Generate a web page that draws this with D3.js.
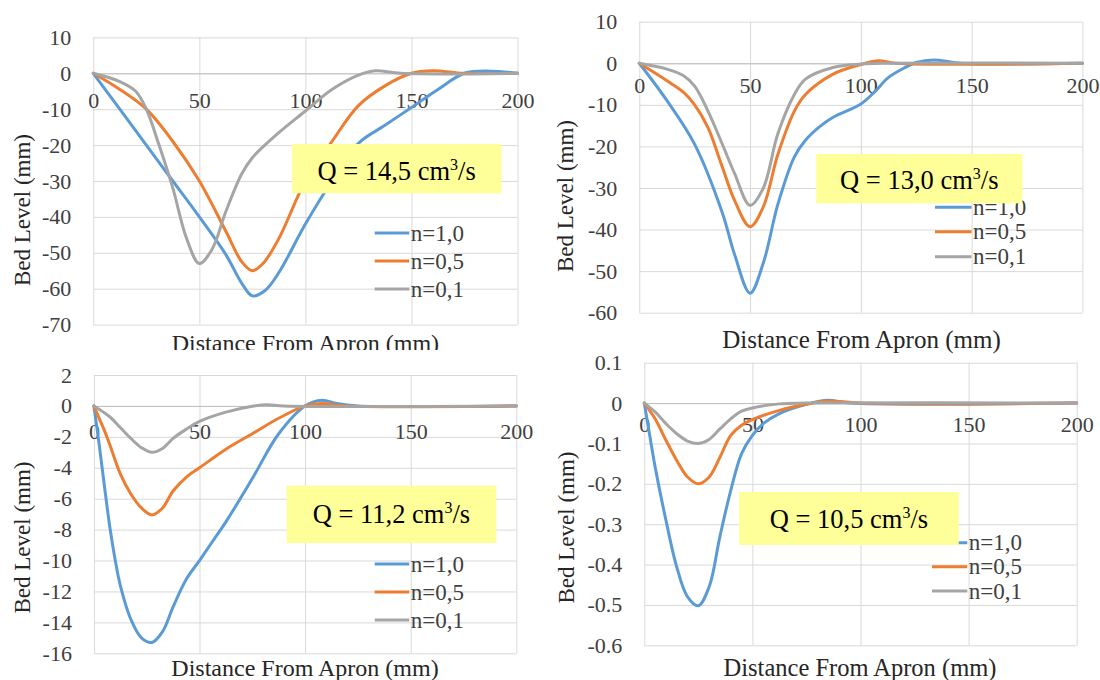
<!DOCTYPE html>
<html>
<head>
<meta charset="utf-8">
<script src="https://cdn.jsdelivr.net/npm/d3@7"></script>
<style>
  html, body { margin: 0; padding: 0; background: #fff; }
  svg { display: block; }
  svg text { font-family: "Liberation Serif", Tinos, "Times New Roman", "DejaVu Serif", serif !important; }
</style>
</head>
<body>
<svg id="chart" width="1100" height="680"></svg>
<script>
// ---- data ----
const seriesLabels = ['n=1,0', 'n=0,5', 'n=0,1'];
const xTicks = [0, 50, 100, 150, 200];

// Q = 14,5 cm3/s
const q145Ticks = [10, 0, -10, -20, -30, -40, -50, -60, -70];
const q145_n10 = [[0,0],[12.5,-10],[25,-20],[37.5,-30],[50,-40],[62.5,-50.5],[70,-58.5],[75,-62],[81,-60.5],[87.5,-55.5],[100,-42],[112.5,-30],[125,-19.5],[137.5,-14.5],[150,-9.5],[162.5,-4.5],[175,0],[187.5,0.6],[200,0]];
const q145_n05 = [[0,0],[12.5,-4.5],[25,-10],[37.5,-19],[50,-30],[62.5,-44],[70,-52.5],[75,-55],[80,-53],[87.5,-46],[100,-30],[112.5,-19],[125,-9],[137.5,-3.5],[150,0],[160,0.7],[175,0],[200,0]];
const q145_n01 = [[0,0],[12.5,-2.3],[20,-5],[25,-10],[31,-20],[37.5,-32],[44,-46],[50,-53],[56,-49],[62.5,-38.5],[70,-28],[75,-23.5],[87.5,-16.5],[100,-10.5],[112.5,-4.5],[125,-0.5],[133,0.7],[145,0],[200,0]];

// Q = 13,0 cm3/s
const q130Ticks = [10, 0, -10, -20, -30, -40, -50, -60];
const q130_n10 = [[0,0],[12.5,-9],[25,-19.5],[37.5,-36],[43,-46],[50,-55.3],[56,-48],[62.5,-34],[70,-22.5],[75,-18.5],[82,-15],[87.5,-13],[100,-9.8],[106,-7],[112.5,-3.4],[120,-1],[125,0.2],[133,0.8],[145,0],[200,0]];
const q130_n05 = [[0,0],[12.5,-4.2],[20,-7],[25,-10],[31,-15.5],[37.5,-25],[43,-33],[50,-39.3],[56,-34.5],[62.5,-22],[70,-11.5],[75,-7.5],[87.5,-2.6],[100,-0.3],[108,0.6],[116,0],[200,0]];
const q130_n01 = [[0,0],[12.5,-1.4],[20,-3],[25,-5.5],[31,-11.5],[37.5,-19.5],[43,-26.5],[50,-34.2],[56,-30],[62.5,-17],[70,-7.5],[75,-3.8],[87.5,-1],[100,-0.2],[110,0],[200,0]];

// Q = 11,2 cm3/s
const q112Ticks = [2, 0, -2, -4, -6, -8, -10, -12, -14, -16];
const q112_n10 = [[0,0],[2.5,-2.5],[5,-5.2],[7.5,-7.8],[10,-9.9],[12.5,-11.6],[17.5,-13.8],[22.5,-15],[27.5,-15.3],[32.5,-14.6],[37.5,-13],[43.8,-11.2],[50,-10],[56,-8.8],[62.5,-7.5],[75,-4.7],[87.5,-1.8],[100,0],[108,0.37],[115,0.15],[125,0],[200,0]];
const q112_n05 = [[0,0],[2.5,-0.8],[5,-1.6],[7.5,-2.5],[12.5,-4.4],[17.5,-5.7],[22.5,-6.6],[27.5,-7.05],[32.5,-6.6],[37.5,-5.5],[43.8,-4.6],[50,-4],[62.5,-2.8],[75,-1.8],[87.5,-0.8],[100,0],[108,0.15],[120,0],[200,0]];
const q112_n01 = [[0,0],[7.5,-0.7],[12.5,-1.4],[17.5,-2.1],[22.5,-2.7],[27.5,-3],[32.5,-2.75],[37.5,-2.1],[43.8,-1.5],[50,-1],[62.5,-0.4],[75,-0.02],[82,0.08],[90,0],[200,0]];

// Q = 10,5 cm3/s
const q105Ticks = [0.1, 0, -0.1, -0.2, -0.3, -0.4, -0.5, -0.6];
const q105_n10 = [[0,0],[2.5,-0.08],[5,-0.158],[10,-0.29],[15,-0.406],[20,-0.48],[25,-0.502],[30,-0.455],[35,-0.33],[40,-0.216],[45,-0.125],[50,-0.08],[55,-0.051],[62.5,-0.026],[75,-0.003],[85,0.007],[95,0],[200,0]];
const q105_n05 = [[0,0],[5,-0.039],[10,-0.092],[15,-0.142],[20,-0.183],[25,-0.2],[30,-0.183],[35,-0.134],[40,-0.08],[45,-0.055],[50,-0.041],[62.5,-0.018],[75,-0.003],[85,0.005],[100,0],[200,0]];
const q105_n01 = [[0,0],[5,-0.022],[10,-0.051],[15,-0.076],[20,-0.094],[25,-0.1],[30,-0.09],[35,-0.064],[40,-0.039],[45,-0.02],[50,-0.012],[62.5,-0.002],[75,0],[200,0]];

// ---- layout ----
const COLORS = ['#5B9BD5', '#ED7D31', '#A5A5A5'];
const FONT = 'Liberation Serif';
const TEXT = '#404040';

const panels = [
  { q: '14,5', series: [q145_n10, q145_n05, q145_n01], ticks: q145Ticks,
    left: 93.3, right: 517.5, top: 37.4, bottom: 324.6, xLab: 35,
    qBox: [291.8, 144, 209.6, 49.3], qBase: 180,
    leg: { x0: 374.7, x1: 409.2, rows: [233, 261, 289] },
    xTitle: [305.4, 351, 24], yTitle: [22.4, 210], clip: 350 },
  { q: '13,0', series: [q130_n10, q130_n05, q130_n01], ticks: q130Ticks,
    left: 639.3, right: 1082.4, top: 21.7, bottom: 312.7, xLab: 30,
    qBox: [816.2, 154, 206.2, 49.3], qBase: 189,
    leg: { x0: 935, x1: 971.5, rows: [207.3, 231.7, 256.7] },
    xTitle: [861.5, 348, 25], yTitle: [565, 196], clip: null },
  { q: '11,2', series: [q112_n10, q112_n05, q112_n01], ticks: q112Ticks,
    left: 93.9, right: 516.3, top: 375, bottom: 653.3, xLab: 33,
    qBox: [286.6, 485.7, 209.6, 57.3], qBase: 523,
    leg: { x0: 374.7, x1: 409.2, rows: [564, 592, 620] },
    xTitle: [305, 676, 24], yTitle: [22.4, 537.5], clip: null },
  { q: '10,5', series: [q105_n10, q105_n05, q105_n01], ticks: q105Ticks,
    left: 644.3, right: 1076.7, top: 362.7, bottom: 645.3, xLab: 29,
    qBox: [739, 492, 219.8, 53], qBase: 528,
    leg: { x0: 932, x1: 967.3, rows: [542.7, 566.7, 591] },
    xTitle: [860, 676, 24.5], yTitle: [566.8, 527.5], clip: null },
];

const svg = d3.select('#chart');
const defs = svg.append('defs');

const fmt = v => String(v);

panels.forEach((p, i) => {
  const g = svg.append('g').attr('font-family', FONT);
  if (p.clip) {
    defs.append('clipPath').attr('id', 'clip' + i)
      .append('rect').attr('x', 0).attr('y', 0).attr('width', 1100).attr('height', p.clip);
    g.attr('clip-path', `url(#clip${i})`);
  }

  const x = d3.scaleLinear().domain([0, 200]).range([p.left, p.right]);
  const y = d3.scaleLinear()
    .domain([d3.min(p.ticks), d3.max(p.ticks)])
    .range([p.bottom, p.top]);

  // horizontal gridlines + y labels
  g.append('g')
    .attr('transform', `translate(${p.left},0)`)
    .call(d3.axisLeft(y).tickValues(p.ticks).tickSize(-(p.right - p.left)).tickPadding(22).tickFormat(fmt))
    .attr('font-family', FONT).attr('font-size', 22)
    .call(s => s.select('.domain').remove())
    .call(s => s.selectAll('line').attr('stroke', '#d9d9d9'))
    .call(s => s.selectAll('text').attr('fill', TEXT));

  // vertical gridlines
  g.append('g')
    .attr('transform', `translate(0,${p.top})`)
    .call(d3.axisBottom(x).tickValues(xTicks).tickSize(p.bottom - p.top).tickFormat(''))
    .call(s => s.select('.domain').remove())
    .call(s => s.selectAll('line').attr('stroke', '#d9d9d9'));

  // horizontal axis at zero, labels just below it
  g.append('g')
    .attr('transform', `translate(0,${y(0)})`)
    .call(d3.axisBottom(x).tickValues(xTicks).tickSize(0).tickFormat(fmt))
    .attr('font-family', FONT).attr('font-size', 22)
    .call(s => s.select('.domain').attr('stroke', '#bfbfbf'))
    .call(s => s.selectAll('text').attr('y', p.xLab).attr('dy', 0).attr('fill', TEXT));

  // series (smoothed like Excel)
  const line = d3.line()
    .x(d => x(d[0]))
    .y(d => y(d[1]))
    .curve(d3.curveCatmullRom.alpha(0.5));

  p.series.forEach((s, k) => {
    g.append('path')
      .datum(s)
      .attr('d', line)
      .attr('fill', 'none')
      .attr('stroke', COLORS[k])
      .attr('stroke-width', 3)
      .attr('stroke-linejoin', 'round')
      .attr('stroke-linecap', 'round');
  });

  // legend
  seriesLabels.forEach((lab, k) => {
    const ry = p.leg.rows[k];
    g.append('line')
      .attr('x1', p.leg.x0).attr('x2', p.leg.x1)
      .attr('y1', ry).attr('y2', ry)
      .attr('stroke', COLORS[k]).attr('stroke-width', 3);
    g.append('text')
      .attr('x', p.leg.x1 + 1.5).attr('y', ry + 7.5)
      .attr('font-size', 23).attr('fill', TEXT)
      .text(lab);
  });

  // Q annotation box
  const [bx, by, bw, bh] = p.qBox;
  g.append('rect')
    .attr('x', bx).attr('y', by).attr('width', bw).attr('height', bh)
    .attr('fill', '#FFFF99');
  const qt = g.append('text')
    .attr('x', bx + bw / 2).attr('y', p.qBase)
    .attr('text-anchor', 'middle')
    .attr('font-size', 26.5).attr('fill', '#000');
  qt.append('tspan').text(`Q = ${p.q} cm`);
  qt.append('tspan').attr('font-size', 16).attr('dy', -10).text('3');
  qt.append('tspan').attr('dy', 10).text('/s');

  // axis titles
  g.append('text')
    .attr('x', p.xTitle[0]).attr('y', p.xTitle[1])
    .attr('text-anchor', 'middle')
    .attr('font-size', p.xTitle[2]).attr('fill', '#262626')
    .text('Distance From Apron (mm)');

  g.append('text')
    .attr('transform', `translate(${p.yTitle[0]},${p.yTitle[1]}) rotate(-90)`)
    .attr('text-anchor', 'middle')
    .attr('dominant-baseline', 'central')
    .attr('font-size', 23).attr('fill', '#262626')
    .text('Bed Level (mm)');
});
</script>
</body>
</html>
